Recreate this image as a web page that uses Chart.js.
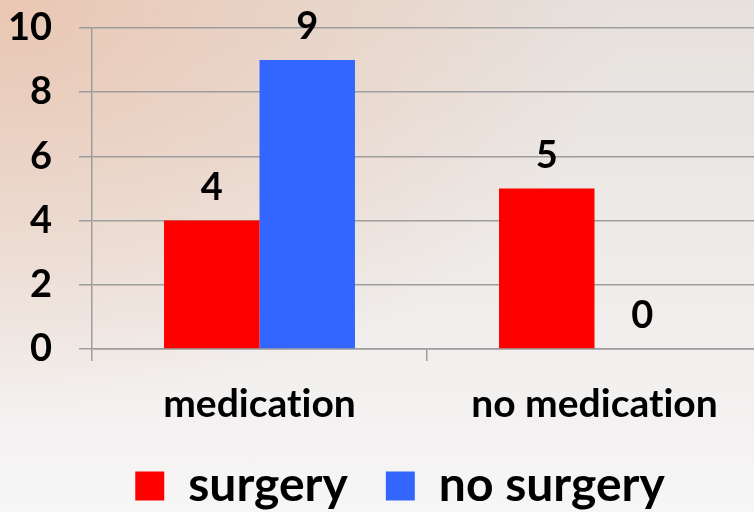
<!DOCTYPE html>
<html>
<head>
<meta charset="utf-8">
<script src="https://cdn.jsdelivr.net/npm/chart.js@4.4.1/dist/chart.umd.min.js"></script>
<style>
    html, body {
        margin: 0;
        padding: 0;
        width: 754px;
        height: 512px;
        overflow: hidden;
    }
    body {
        background:
            radial-gradient(ellipse 620px 420px at 0% 0%, rgba(234, 196, 174, 0.9), rgba(234, 196, 174, 0) 100%),
            linear-gradient(180deg, #e6e1dd 0%, #efecea 55%, #f7f6f6 100%);
    }
    #wrap {
        width: 762px;
        height: 512px;
    }
</style>
</head>
<body>
<div id="wrap"><canvas id="chart"></canvas></div>
<script>
const categories = ['medication', 'no medication'];
const seriesNames = ['surgery', 'no surgery'];
const surgery = [4, 5];
const noSurgery = [9, 0];
const yTicks = [0, 2, 4, 6, 8, 10];

const FONT = 'Lato, "Open Sans", sans-serif';
const RED = '#ff0000';
const BLUE = '#3366ff';
const GRID = '#9d9d9d';

// no "ti" ligature in the labels
const plainText = {
    id: 'plainText',
    beforeDraw(chart) {
        chart.ctx.textRendering = 'optimizeSpeed';
    }
};

// value above each bar
const valueLabels = {
    id: 'valueLabels',
    afterDatasetsDraw(chart) {
        const ctx = chart.ctx;
        ctx.save();
        ctx.font = `bold 38px ${FONT}`;
        ctx.fillStyle = '#000';
        ctx.textAlign = 'center';
        ctx.textBaseline = 'alphabetic';
        chart.data.datasets.forEach((ds, i) => {
            chart.getDatasetMeta(i).data.forEach((bar, j) => {
                ctx.fillText(String(ds.data[j]), bar.x, bar.y - 21);
            });
        });
        ctx.restore();
    }
};

new Chart(document.getElementById('chart'), {
    type: 'bar',
    data: {
        labels: categories,
        datasets: [
            { label: seriesNames[0], data: surgery, backgroundColor: RED, borderWidth: 0 },
            { label: seriesNames[1], data: noSurgery, backgroundColor: BLUE, borderWidth: 0 }
        ]
    },
    options: {
        responsive: true,
        maintainAspectRatio: false,
        animation: false,
        categoryPercentage: 0.57,
        barPercentage: 1.0,
        layout: { padding: { left: 38, top: 28, right: 0, bottom: -8 } },
        plugins: {
            tooltip: { enabled: false },
            legend: {
                position: 'bottom',
                labels: {
                    color: '#000',
                    font: { family: FONT, size: 48, weight: 'bold', lineHeight: 1 },
                    boxWidth: 29,
                    boxHeight: 29,
                    padding: 2,
                    generateLabels(chart) {
                        const items = Chart.defaults.plugins.legend.labels.generateLabels(chart);
                        // widen the gap after the first entry
                        items[0].text += '\u2003';
                        items.forEach(it => { it.lineWidth = 0; });
                        return items;
                    }
                }
            }
        },
        scales: {
            x: {
                afterFit(scale) { scale.height = 111; },
                grid: {
                    offset: true,
                    drawOnChartArea: false,
                    drawTicks: true,
                    tickLength: 12,
                    color: GRID,
                    lineWidth: 1.5
                },
                border: { color: GRID, width: 1.5 },
                ticks: {
                    color: '#000',
                    font: { family: FONT, size: 39, weight: 'bold' },
                    padding: 20,
                    maxRotation: 0
                }
            },
            y: {
                min: 0,
                max: 10,
                afterFit(scale) {
                    scale.width = 54;
                    scale.paddingTop = 0;
                    scale.paddingBottom = 0;
                    // let the wide tick labels run past the axis box
                    scale._computeLabelArea = () => undefined;
                },
                afterBuildTicks(scale) { scale.ticks = yTicks.map(v => ({ value: v })); },
                grid: {
                    color: GRID,
                    lineWidth: 1.5,
                    tickLength: 13
                },
                border: { color: GRID, width: 1.5 },
                ticks: {
                    color: '#000',
                    font: { family: FONT, size: 38, weight: 'bold' },
                    padding: 27
                }
            }
        }
    },
    plugins: [plainText, valueLabels]
});
</script>
</body>
</html>
